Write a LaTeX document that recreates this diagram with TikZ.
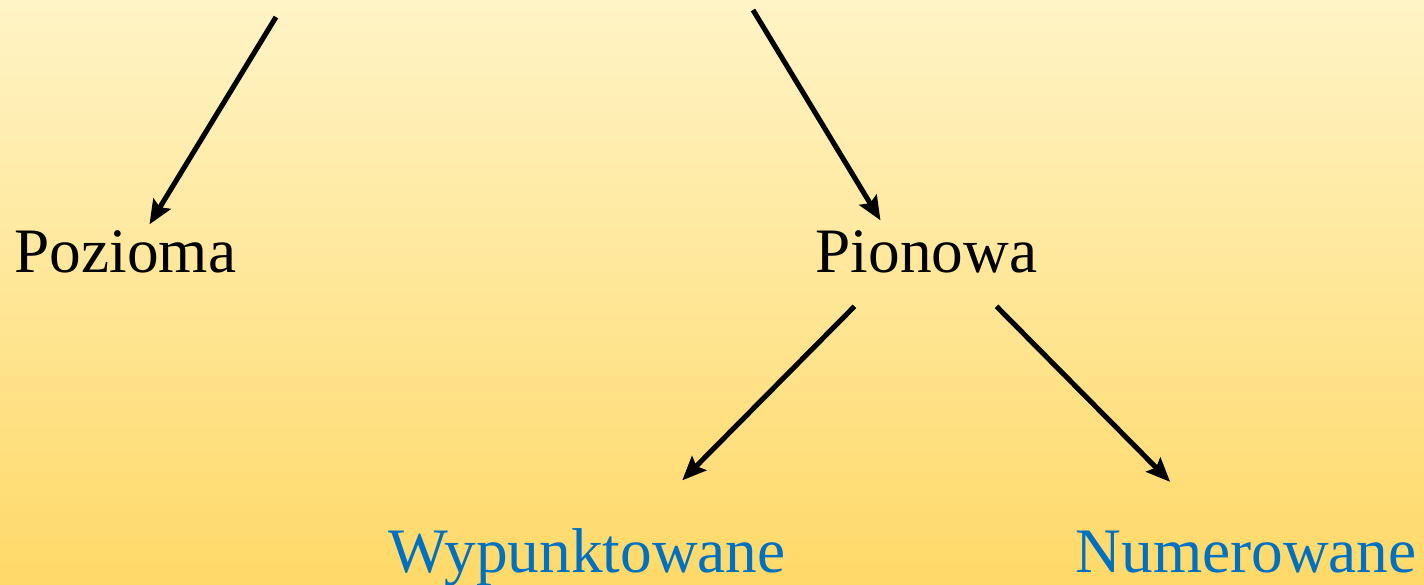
\documentclass[tikz,border=0pt]{standalone}
\usepackage{fontspec}
\setmainfont{Liberation Serif}
\usepackage{xcolor}
\usetikzlibrary{arrows.meta,positioning,calc}
\definecolor{bgtop}{HTML}{FFF4C6}
\definecolor{bgbottom}{HTML}{FFD968}
\definecolor{listblue}{HTML}{0070C0}

\begin{document}
\begin{tikzpicture}[
				x=0.01cm, y=-0.01cm,
				label/.style={
					inner sep=0pt,
					anchor=base west,
					font=\fontsize{18pt}{22pt}\selectfont
				},
				sublabel/.style={
					label,
					text=listblue
				},
				arr/.style={
					-{Stealth[length=2.4mm,width=2mm,inset=0.4mm]},
					line width=1.45pt
				}
				]
				\shade[top color=bgtop, bottom color=bgbottom] (0,0) rectangle (1424,585);
				\useasboundingbox (0,0) rectangle (1424,585);
				
				\node[label] (poz) at (14,272) {Pozioma};
				\node[label] (pion) at (815,272) {Pionowa};
				\node[sublabel] (wyp) at (388,572) {Wypunktowane};
				\node[sublabel] (num) at (1075,572) {Numerowane};
				
				% ends coming from above the picture
				\coordinate (topleft) at (276,17);
				\coordinate (topright) at (753,10);
				
				\draw[arr] (topleft) -- ($(poz.north)+(24,-5)$);
				\draw[arr] (topright) -- ($(pion.north)+(-46,-9)$);
				\draw[arr] ($(pion.south)+(-72,33)$) -- ($(wyp.north)+(95,-47)$);
				\draw[arr] ($(pion.south)+(70,33)$) -- ($(num.north)+(-76,-48)$);
			\end{tikzpicture}
\end{document}
